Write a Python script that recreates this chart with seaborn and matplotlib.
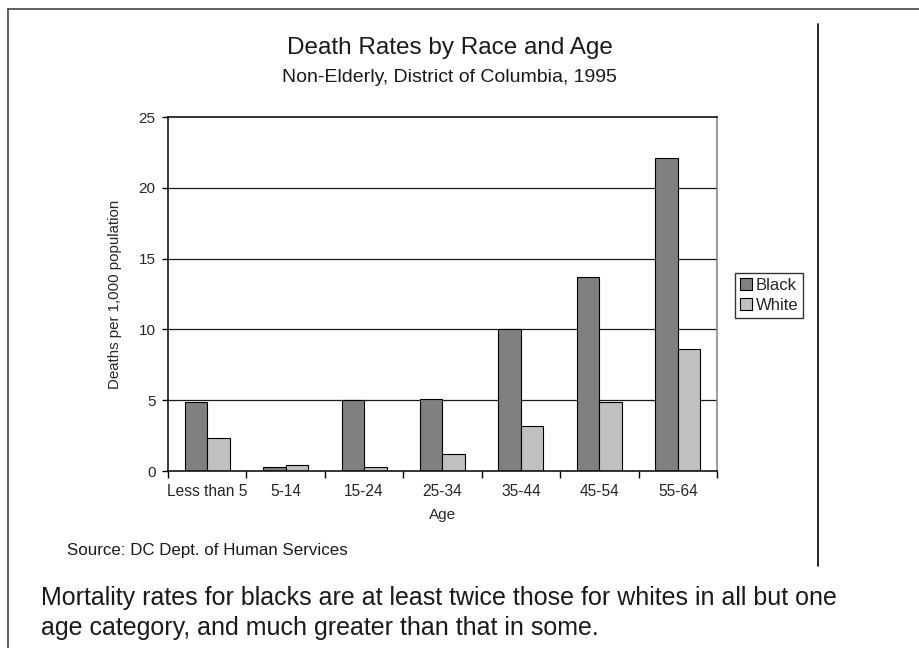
import matplotlib
matplotlib.use("Agg")
import matplotlib.pyplot as plt
import matplotlib.patches as mpatches
from matplotlib.lines import Line2D
import pandas as pd
import seaborn as sns

# Deaths per 1,000 population, DC 1995
age_groups = ["Less than 5", "5-14", "15-24", "25-34", "35-44", "45-54", "55-64"]
black_rates = [4.9, 0.3, 5.0, 5.1, 10.0, 13.7, 22.1]
white_rates = [2.3, 0.4, 0.3, 1.2, 3.2, 4.9, 8.6]
races = ["Black", "White"]
race_colors = {"Black": "#808080", "White": "#c0c0c0"}
y_ticks = [0, 5, 10, 15, 20, 25]

df = pd.DataFrame({
    "Age": age_groups * 2,
    "Rate": black_rates + white_rates,
    "Race": [races[0]] * len(age_groups) + [races[1]] * len(age_groups),
})

sns.set_theme(style="white")
plt.rcParams["font.family"] = ["Liberation Sans", "DejaVu Sans"]

fig = plt.figure(figsize=(9.2, 6.48), dpi=100)
ax = fig.add_axes([0.1826, 0.2731, 0.5967, 0.5463])

# horizontal gridlines drawn beneath the bars
for v in y_ticks[1:-1]:
    ax.axhline(v, color="#1a1a1a", linewidth=0.9, zorder=0)

sns.barplot(data=df, x="Age", y="Rate", hue="Race", order=age_groups,
            hue_order=races, palette=race_colors, width=0.575,
            edgecolor="black", linewidth=0.8, saturation=1, ax=ax,
            legend=False, zorder=2)

ax.set_xlim(-0.5, len(age_groups) - 0.5)
ax.set_ylim(0, 25)
ax.set_yticks(y_ticks)
ax.set_yticklabels([str(v) for v in y_ticks], fontsize=11)
ax.set_xticks(range(len(age_groups)))
ax.set_xticklabels(age_groups, fontsize=11.2)
ax.set_xticks([i - 0.5 for i in range(len(age_groups) + 1)], minor=True)
ax.tick_params(axis="x", which="major", length=0, pad=9)
ax.tick_params(axis="x", which="minor", length=5, width=1, direction="out",
               color="black", bottom=True)
ax.tick_params(axis="y", length=4, width=1, direction="out", color="black",
               left=True, pad=5)

ax.set_xlabel("Age", fontsize=11, labelpad=7)
ax.set_ylabel("Deaths per 1,000 population", fontsize=10.8, labelpad=12)

for side in ["left", "bottom", "top"]:
    ax.spines[side].set_color("black")
    ax.spines[side].set_linewidth(1.1)
ax.spines["right"].set_color("#808080")
ax.spines["right"].set_linewidth(1.1)

# legend box to the right of the plot
handles = [mpatches.Patch(facecolor=race_colors[r], edgecolor="black",
                          linewidth=0.8, label=r) for r in races]
fig.legend(handles=handles, loc="upper left",
           bbox_to_anchor=(735 / 920, 1 - 273 / 648), fontsize=12,
           frameon=True, fancybox=False, edgecolor="black",
           handlelength=0.7, handleheight=0.7, handletextpad=0.25,
           borderpad=0.3, labelspacing=0.3, borderaxespad=0)

fig.text(0.489, 1 - 48 / 648, "Death Rates by Race and Age", ha="center",
         va="center", fontsize=17.5, color="#1a1a1a")
fig.text(0.489, 1 - 77 / 648, "Non-Elderly, District of Columbia, 1995",
         ha="center", va="center", fontsize=14, color="#1a1a1a")
fig.text(67 / 920, 1 - 551 / 648, "Source: DC Dept. of Human Services",
         ha="left", va="center", fontsize=12.2, color="#1a1a1a")
fig.text(41 / 920, 1 - 598 / 648,
         "Mortality rates for blacks are at least twice those for whites in all but one",
         ha="left", va="center", fontsize=18, color="#1a1a1a")
fig.text(41 / 920, 1 - 628 / 648,
         "age category, and much greater than that in some.",
         ha="left", va="center", fontsize=18, color="#1a1a1a")

# page frame and side rule
fig.add_artist(Line2D([8 / 920, 8 / 920], [0, 1 - 9 / 648], color="#444444",
                      linewidth=1.2, transform=fig.transFigure))
fig.add_artist(Line2D([8 / 920, 1], [1 - 9 / 648, 1 - 9 / 648], color="#444444",
                      linewidth=1.2, transform=fig.transFigure))
fig.add_artist(Line2D([818 / 920, 818 / 920], [1 - 566 / 648, 1 - 24 / 648],
                      color="black", linewidth=1.2, transform=fig.transFigure))

fig.savefig("out.png", dpi=100)
